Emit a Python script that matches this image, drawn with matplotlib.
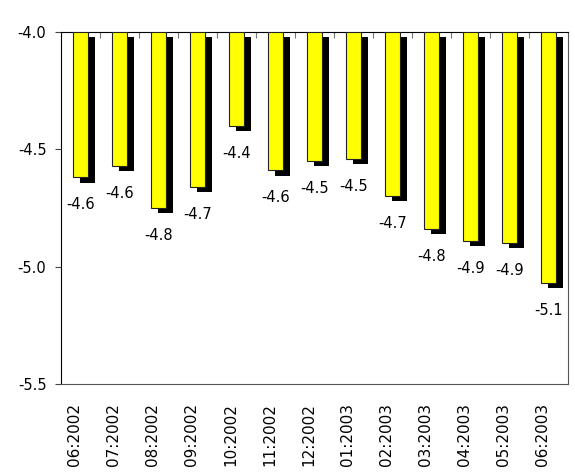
import matplotlib
matplotlib.use('Agg')
import matplotlib.pyplot as plt
import matplotlib.transforms as mtransforms
import numpy as np

# data
months = ['06:2002', '07:2002', '08:2002', '09:2002', '10:2002', '11:2002', '12:2002',
          '01:2003', '02:2003', '03:2003', '04:2003', '05:2003', '06:2003']
values = [-4.62, -4.57, -4.75, -4.66, -4.40, -4.59, -4.55,
          -4.54, -4.70, -4.84, -4.89, -4.90, -5.07]
labels = ['-4.6', '-4.6', '-4.8', '-4.7', '-4.4', '-4.6', '-4.5',
          '-4.5', '-4.7', '-4.8', '-4.9', '-4.9', '-5.1']
BASE = -4.0

W, H = 575, 472
fig = plt.figure(figsize=(W / 100, H / 100), dpi=100)
ax = fig.add_axes([61 / W, 1 - 384 / H, (568 - 61) / W, (384 - 32) / H])

x = np.arange(len(months))
heights = np.array(values) - BASE
BAR_W = 0.40
DX = 0.18   # shadow offset in x (category units)
DY = 0.022  # shadow offset in y (data units)

# shadow first, then yellow bar on top
ax.bar(x + DX, heights, width=BAR_W, bottom=BASE - DY, color='black', zorder=2)
ax.bar(x, heights, width=BAR_W, bottom=BASE, color='#ffff00', edgecolor='#222222',
       linewidth=0.8, zorder=3)

for xi, v, lab in zip(x, values, labels):
    ax.annotate(lab, (xi, v), xytext=(0, -20), textcoords='offset pixels',
                ha='center', va='top', fontsize=10.5)

ax.set_xlim(-0.5, len(months) - 0.5)
ax.set_ylim(-5.5, -4.0)
ax.set_yticks([-4.0, -4.5, -5.0, -5.5])
ax.set_yticklabels(['-4.0', '-4.5', '-5.0', '-5.5'], fontsize=10.5)
ax.tick_params(axis='y', direction='out', length=4.5, width=0.8, pad=6, color='#444444')

# category labels at bottom, boundary ticks hanging from the top line
ax.set_xticks(x)
ax.set_xticklabels(months, rotation=90, fontsize=11)
ax.tick_params(axis='x', which='major', length=0, pad=13.5)
shift = mtransforms.ScaledTranslation(-6 / 100, 0, fig.dpi_scale_trans)
for t in ax.get_xticklabels():
    t.set_transform(t.get_transform() + shift)
ax.set_xticks(np.arange(0.5, len(months) - 0.5, 1), minor=True)
ax.tick_params(axis='x', which='minor', top=True, bottom=False, direction='in',
               length=4, width=0.8, color='#777777')

ax.spines['left'].set_color('black')
ax.spines['top'].set_color('black')
ax.spines['bottom'].set_color('#555555')
ax.spines['right'].set_color('#555555')

fig.savefig('out.png', dpi=100)
